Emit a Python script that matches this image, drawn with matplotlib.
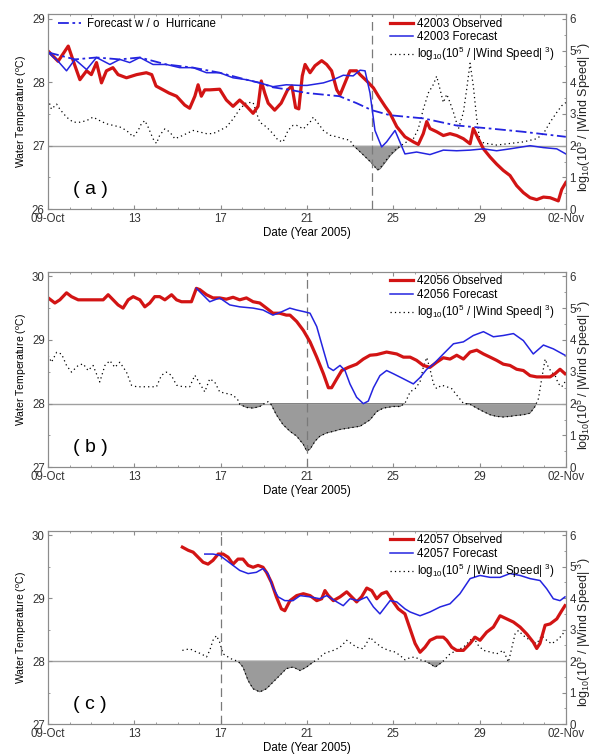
import matplotlib.pyplot as plt
import numpy as np
from matplotlib.ticker import MultipleLocator

plt.rcParams['font.family'] = ['Liberation Sans', 'DejaVu Sans']
plt.rcParams['mathtext.default'] = 'regular'
plt.rcParams['font.size'] = 8.3

# days since 09-Oct-2005
xtick_pos = [0, 4, 8, 12, 16, 20, 24]
xtick_lab = ['09-Oct', '13', '17', '21', '25', '29', '02-Nov']

# ---------------- (a) buoy 42003 ----------------
a_obs_day = [0, 0.46, 0.93, 1.24, 1.47, 1.78, 2.0, 2.24, 2.47, 2.7,
             3.0, 3.24, 3.63, 4.1, 4.55, 4.8, 5.0, 5.33, 5.6, 5.95,
             6.33, 6.56, 6.8, 6.95, 7.1, 7.26, 7.5, 7.95, 8.26, 8.57,
             8.88, 9.2, 9.5, 9.73, 9.88, 10.04, 10.2, 10.5, 10.8, 11.1,
             11.3, 11.47, 11.62, 11.78, 11.91, 12.14, 12.37, 12.68, 12.91, 13.14,
             13.38, 13.53, 13.76, 13.99, 14.3, 14.46, 14.77, 15.08, 15.31, 15.62,
             15.85, 16.16, 16.54, 16.93, 17.16, 17.39, 17.55, 17.7, 18.01, 18.32,
             18.63, 18.94, 19.25, 19.56, 19.71, 19.94, 20.18, 20.49, 20.79, 21.1,
             21.41, 21.72, 22.03, 22.34, 22.65, 22.96, 23.27, 23.5, 23.65, 23.81, 24.0]
a_obs = [28.49, 28.33, 28.57, 28.26, 28.04, 28.18, 28.12, 28.31, 27.99, 28.18,
         28.23, 28.12, 28.07, 28.12, 28.15, 28.12, 27.94, 27.88, 27.83, 27.78,
         27.64, 27.59, 27.78, 27.96, 27.78, 27.88, 27.88, 27.89, 27.72, 27.62,
         27.72, 27.62, 27.51, 27.62, 28.02, 27.83, 27.67, 27.56, 27.67, 27.88,
         27.94, 27.6, 27.58, 28.1, 28.28, 28.15, 28.26, 28.34, 28.28, 28.18,
         27.88, 27.8, 27.99, 28.18, 28.18, 28.12, 28.02, 27.91, 27.78, 27.62,
         27.51, 27.3, 27.14, 27.06, 27.02, 27.19, 27.38, 27.27, 27.22, 27.16,
         27.19, 27.16, 27.11, 27.03, 27.27, 27.11, 26.95, 26.82, 26.71, 26.61,
         26.53, 26.37, 26.26, 26.18, 26.15, 26.19, 26.18, 26.15, 26.13, 26.31, 26.42]

a_fc_day = [0, 0.46, 0.85, 1.24, 1.78, 2.24, 2.86, 3.32, 3.78, 4.25,
            4.86, 5.48, 6.1, 6.72, 7.34, 7.95, 8.57, 9.19, 9.81, 10.42,
            11.04, 11.66, 12.0, 12.76, 13.22, 13.68, 14.14, 14.46, 14.69, 14.92,
            15.15, 15.46, 15.69, 16.08, 16.54, 17.08, 17.7, 18.32, 18.94, 19.56,
            20.18, 20.79, 21.41, 22.34, 22.96, 23.58, 24.0]
a_fc = [28.47, 28.33, 28.18, 28.36, 28.2, 28.39, 28.28, 28.36, 28.31, 28.39,
        28.28, 28.28, 28.23, 28.23, 28.15, 28.15, 28.07, 28.04, 27.99, 27.93,
        27.96, 27.95, 27.95, 27.99, 28.04, 28.11, 28.1, 28.19, 28.18, 27.83,
        27.24, 26.98, 27.06, 27.24, 26.87, 26.9, 26.86, 26.93, 26.92, 26.93,
        26.95, 26.92, 26.95, 27.0, 26.97, 26.95, 26.87]

a_nohur_day = [0, 1.24, 2.24, 3.32, 4.25, 5.48, 6.72, 7.95, 9.19, 9.81,
               10.42, 11.2, 12.0, 13.5, 14.3, 15.0, 15.85, 17.4, 18.9, 20.5,
               22.0, 24.0]
a_nohur = [28.47, 28.36, 28.39, 28.36, 28.39, 28.28, 28.23, 28.15, 28.04, 27.99,
           27.92, 27.88, 27.83, 27.78, 27.67, 27.56, 27.48, 27.43, 27.32, 27.27,
           27.22, 27.14]

a_wind_day = [0, 0.15, 0.39, 0.54, 0.85, 1.16, 1.47, 1.78, 2.08, 2.39,
              2.7, 3.01, 3.32, 3.63, 3.94, 4.17, 4.32, 4.48, 4.63, 4.86,
              5.02, 5.17, 5.41, 5.64, 5.87, 6.1, 6.41, 6.72, 7.03, 7.34,
              7.64, 7.95, 8.26, 8.57, 8.88, 9.19, 9.5, 9.65, 9.81, 10.12,
              10.42, 10.66, 10.89, 11.12, 11.35, 11.52, 11.83, 12.14, 12.29, 12.53,
              12.76, 13.07, 13.38, 13.68, 13.99, 14.15, 14.3, 14.61, 15.0, 15.26,
              15.38, 15.62, 15.85, 16.16, 16.39, 16.62, 16.93, 17.16, 17.39, 17.63,
              17.86, 18.01, 18.17, 18.32, 18.48, 18.63, 18.79, 19.02, 19.25, 19.4,
              19.56, 19.71, 19.87, 20.02, 20.33, 20.79, 21.41, 22.03, 22.65, 22.96,
              23.27, 23.58, 23.81, 24.0]
a_wind = [3.46, 3.15, 3.31, 3.15, 2.9, 2.74, 2.74, 2.79, 2.9, 2.79,
          2.69, 2.64, 2.59, 2.48, 2.28, 2.48, 2.69, 2.79, 2.59, 2.22,
          2.07, 2.33, 2.53, 2.43, 2.22, 2.28, 2.38, 2.48, 2.43, 2.38,
          2.38, 2.48, 2.59, 2.84, 3.15, 3.36, 3.36, 3.05, 2.74, 2.59,
          2.38, 2.17, 2.12, 2.48, 2.64, 2.64, 2.53, 2.74, 2.9, 2.69,
          2.48, 2.33, 2.28, 2.22, 2.17, 2.0, 1.91, 1.71, 1.45, 1.24,
          1.29, 1.5, 1.71, 1.91, 2.02, 2.12, 2.22, 2.53, 3.15, 3.67,
          3.93, 4.19, 3.77, 3.36, 3.62, 3.36, 3.05, 2.53, 3.05, 3.77,
          4.6, 3.88, 2.84, 2.12, 2.07, 2.02, 2.07, 2.12, 2.22, 2.38,
          2.74, 3.05, 3.26, 3.36]

# ---------------- (b) buoy 42056 ----------------
b_obs_day = [0, 0.31, 0.54, 0.85, 1.08, 1.39, 1.78, 2.24, 2.55, 2.78,
             3.01, 3.24, 3.47, 3.71, 3.94, 4.25, 4.48, 4.71, 4.94, 5.17,
             5.41, 5.72, 5.95, 6.18, 6.64, 6.87, 7.03, 7.34, 7.64, 7.95,
             8.26, 8.57, 8.88, 9.19, 9.5, 9.81, 10.12, 10.42, 10.73, 11.04,
             11.21, 11.52, 11.83, 12.14, 12.45, 12.76, 12.99, 13.14, 13.38, 13.61,
             13.92, 14.3, 14.61, 14.92, 15.23, 15.69, 16.16, 16.47, 16.78, 17.08,
             17.39, 17.7, 18.01, 18.32, 18.63, 18.94, 19.25, 19.56, 19.87, 20.18,
             20.49, 20.79, 21.1, 21.41, 21.72, 22.03, 22.34, 22.65, 22.96, 23.27,
             23.5, 23.73, 23.96]
b_obs = [29.66, 29.58, 29.63, 29.74, 29.68, 29.63, 29.63, 29.63, 29.63, 29.71,
         29.63, 29.55, 29.5, 29.63, 29.68, 29.63, 29.52, 29.58, 29.68, 29.68,
         29.63, 29.71, 29.63, 29.6, 29.6, 29.81, 29.79, 29.71, 29.66, 29.66,
         29.64, 29.67, 29.63, 29.66, 29.6, 29.58, 29.5, 29.42, 29.42, 29.39,
         29.39, 29.29, 29.15, 28.97, 28.73, 28.47, 28.25, 28.25, 28.39, 28.52,
         28.57, 28.62, 28.7, 28.76, 28.77, 28.81, 28.78, 28.73, 28.73, 28.68,
         28.6, 28.57, 28.65, 28.72, 28.7, 28.76, 28.7, 28.81, 28.84, 28.78,
         28.73, 28.68, 28.62, 28.6, 28.54, 28.52, 28.44, 28.42, 28.42, 28.42,
         28.47, 28.54, 28.47]

b_fc_day = [6.87, 7.49, 7.95, 8.42, 8.88, 9.5, 9.96, 10.42, 10.81, 11.2,
            11.52, 11.91, 12.14, 12.45, 12.76, 12.99, 13.22, 13.53, 13.76, 13.99,
            14.3, 14.61, 14.84, 15.08, 15.38, 15.69, 16.0, 16.47, 16.93, 17.24,
            17.55, 17.86, 18.32, 18.79, 19.25, 19.71, 20.18, 20.64, 21.1, 21.57,
            22.03, 22.49, 22.96, 23.42, 23.96]
b_fc = [29.81, 29.6, 29.66, 29.55, 29.52, 29.5, 29.47, 29.39, 29.44, 29.5,
        29.47, 29.44, 29.42, 29.21, 28.84, 28.57, 28.52, 28.6, 28.52, 28.31,
        28.1, 28.0, 28.04, 28.25, 28.44, 28.52, 28.47, 28.39, 28.31, 28.41,
        28.54, 28.62, 28.78, 28.94, 28.97, 29.07, 29.13, 29.05, 29.07, 29.1,
        28.99, 28.78, 28.92, 28.86, 28.76]

b_wind_day = [0, 0.15, 0.39, 0.62, 0.85, 1.08, 1.39, 1.62, 1.85, 2.08,
              2.39, 2.63, 2.86, 3.09, 3.32, 3.63, 3.86, 4.1, 4.56, 5.02,
              5.25, 5.48, 5.71, 5.95, 6.25, 6.56, 6.8, 7.03, 7.26, 7.49,
              7.72, 7.95, 8.26, 8.57, 8.8, 8.88, 9.19, 9.5, 9.81, 10.04,
              10.19, 10.35, 10.58, 10.89, 11.21, 11.52, 11.83, 11.98, 12.14, 12.37,
              12.6, 12.91, 13.22, 13.53, 13.99, 14.46, 14.92, 15.23, 15.54, 16.0,
              16.31, 16.54, 16.78, 17.01, 17.24, 17.39, 17.55, 17.7, 17.86, 18.01,
              18.24, 18.48, 18.71, 18.94, 19.25, 19.56, 19.87, 20.18, 20.49, 20.79,
              21.1, 21.41, 21.72, 22.03, 22.34, 22.57, 22.73, 22.88, 23.04, 23.19,
              23.34, 23.5, 23.65, 23.81, 23.96]
b_wind = [3.51, 3.3, 3.61, 3.56, 3.2, 2.99, 3.2, 3.25, 3.04, 3.2,
          2.68, 3.2, 3.35, 3.14, 3.3, 2.99, 2.58, 2.53, 2.53, 2.53,
          2.89, 2.99, 2.89, 2.58, 2.53, 2.53, 2.89, 2.63, 2.37, 2.78,
          2.68, 2.37, 2.32, 2.27, 2.11, 1.98, 1.88, 1.86, 1.91, 2.01,
          2.06, 1.96, 1.65, 1.34, 1.13, 0.98, 0.72, 0.52, 0.57, 0.82,
          0.98, 1.08, 1.13, 1.19, 1.24, 1.29, 1.49, 1.75, 1.86, 1.91,
          1.91, 2.01, 2.37, 2.47, 2.68, 3.14, 3.45, 3.09, 2.63, 2.47,
          2.58, 2.53, 2.47, 2.27, 2.01, 1.98, 1.86, 1.75, 1.65, 1.6,
          1.58, 1.6, 1.63, 1.65, 1.7, 1.91, 2.16, 2.78, 3.4, 3.14,
          2.99, 2.89, 2.63, 2.53, 2.68]

# ---------------- (c) buoy 42057 ----------------
c_obs_day = [6.22, 6.49, 6.72, 6.95, 7.18, 7.41, 7.64, 7.88, 8.11, 8.34,
             8.57, 8.8, 9.03, 9.27, 9.5, 9.73, 9.96, 10.12, 10.35, 10.58,
             10.81, 10.97, 11.21, 11.52, 11.83, 12.14, 12.45, 12.68, 12.83, 12.99,
             13.22, 13.53, 13.84, 14.07, 14.3, 14.53, 14.77, 15.0, 15.23, 15.46,
             15.69, 16.0, 16.23, 16.54, 16.78, 17.01, 17.24, 17.47, 17.7, 18.01,
             18.32, 18.48, 18.71, 18.94, 19.25, 19.56, 19.79, 20.02, 20.33, 20.64,
             20.95, 21.26, 21.57, 21.88, 22.19, 22.49, 22.65, 22.8, 23.04, 23.27,
             23.58, 23.81, 23.96]
c_obs = [29.81, 29.76, 29.73, 29.65, 29.57, 29.54, 29.6, 29.7, 29.7, 29.65,
         29.54, 29.62, 29.62, 29.52, 29.49, 29.52, 29.49, 29.41, 29.25, 29.02,
         28.83, 28.8, 28.96, 29.04, 29.07, 29.04, 28.96, 28.99, 29.12, 29.04,
         28.96, 29.02, 29.1, 29.02, 28.94, 29.02, 29.16, 29.12, 28.99, 29.07,
         29.1, 28.94, 28.83, 28.75, 28.51, 28.28, 28.14, 28.22, 28.33, 28.38,
         28.38, 28.33, 28.22, 28.17, 28.17, 28.28, 28.38, 28.33, 28.46, 28.54,
         28.72, 28.67, 28.62, 28.54, 28.43, 28.3, 28.2, 28.28, 28.57, 28.59,
         28.67, 28.8, 28.88]

c_fc_day = [7.26, 7.64, 7.95, 8.26, 8.57, 8.88, 9.27, 9.65, 9.96, 10.19,
            10.42, 10.66, 10.97, 11.35, 11.68, 12.14, 12.6, 12.91, 13.38, 13.68,
            13.99, 14.38, 14.77, 15.08, 15.38, 15.85, 16.16, 16.54, 16.78, 17.24,
            17.7, 18.17, 18.63, 19.09, 19.56, 20.02, 20.49, 20.95, 21.41, 21.88,
            22.34, 22.8, 23.11, 23.42, 23.73, 23.96]
c_fc = [29.7, 29.7, 29.68, 29.6, 29.52, 29.44, 29.39, 29.41, 29.47, 29.39,
        29.17, 29.02, 28.96, 28.96, 29.04, 29.02, 28.99, 29.04, 28.94, 28.88,
        28.99, 28.96, 29.02, 28.86, 28.75, 28.96, 28.94, 28.83, 28.78, 28.72,
        28.78, 28.86, 28.91, 29.07, 29.31, 29.36, 29.33, 29.33, 29.39, 29.36,
        29.31, 29.28, 29.15, 28.99, 28.96, 29.02]

c_wind_day = [6.22, 6.56, 6.87, 7.1, 7.34, 7.49, 7.64, 7.8, 7.95, 8.11,
              8.34, 8.57, 8.8, 9.03, 9.27, 9.5, 9.81, 10.12, 10.42, 10.73,
              11.04, 11.35, 11.68, 11.98, 12.29, 12.53, 12.76, 12.99, 13.22, 13.53,
              13.84, 14.07, 14.3, 14.61, 14.92, 15.15, 15.46, 15.77, 16.08, 16.31,
              16.54, 16.78, 17.01, 17.24, 17.47, 17.7, 17.94, 18.17, 18.35, 18.63,
              18.94, 19.25, 19.48, 19.71, 19.94, 20.18, 20.49, 20.79, 21.1, 21.34,
              21.5, 21.65, 21.8, 22.03, 22.34, 22.65, 22.88, 23.11, 23.34, 23.58,
              23.81, 23.96]
c_wind = [2.34, 2.39, 2.29, 2.23, 2.13, 2.34, 2.66, 2.81, 2.6, 2.23,
          2.13, 2.04, 2.0, 1.81, 1.38, 1.12, 1.02, 1.12, 1.33, 1.54,
          1.76, 1.81, 1.7, 1.81, 1.97, 2.07, 2.23, 2.29, 2.34, 2.44,
          2.66, 2.55, 2.44, 2.39, 2.76, 2.6, 2.44, 2.34, 2.29, 2.18,
          2.04, 2.11, 2.13, 2.04, 2.0, 1.92, 1.81, 1.92, 2.02, 2.23,
          2.34, 2.44, 2.6, 2.76, 2.5, 2.34, 2.29, 2.23, 2.34, 1.97,
          2.44, 2.87, 2.97, 2.81, 2.66, 2.55, 2.81, 2.66, 2.55, 2.66,
          2.81, 2.97]

wind_lab = r'log$_{10}$(10$^5$ / |Wind Speed| $^3$)'
red = '#d21414'
blue = '#2424e0'
grey = '#8c8c8c'

fig = plt.figure(figsize=(5.95, 7.55), dpi=100)


def panel(rect, obs_d, obs_t, fc_d, fc_t, w_d, w_v, tmin, buoy, letter, vday,
          nh_d=None, nh_t=None):
    ax = fig.add_axes(rect)
    ax2 = ax.twinx()
    ax.set_zorder(ax2.get_zorder() + 1)
    ax.patch.set_visible(False)

    # wind index on right axis
    ax2.axhline(2, color='#a0a0a0', lw=1.0)
    w_d = np.array(w_d)
    w_v = np.array(w_v)
    ax2.fill_between(w_d, w_v, 2, where=w_v < 2, interpolate=True,
                     facecolor='#9b9b9b', edgecolor='#555555', lw=0.5)
    lw_, = ax2.plot(w_d, w_v, color='k', lw=0.9, ls=(0, (1, 2.5)))
    ax2.set_ylim(0, 6.14)
    ax2.yaxis.set_major_locator(MultipleLocator(1))
    ax2.yaxis.set_minor_locator(MultipleLocator(0.5))

    ax.axvline(vday, color='#7a7a7a', lw=0.9, ls=(0, (7, 4)))
    lo, = ax.plot(obs_d, obs_t, color=red, lw=2.3)
    lf, = ax.plot(fc_d, fc_t, color=blue, lw=1.1)
    if nh_d is not None:
        ln, = ax.plot(nh_d, nh_t, color=blue, lw=1.3, ls=(0, (6, 2, 1.5, 2)))

    ax.set_xlim(0, 24)
    ax.set_ylim(tmin, tmin + 3.07)
    ax.set_xticks(xtick_pos)
    ax.set_xticklabels(xtick_lab)
    ax.xaxis.set_minor_locator(MultipleLocator(1))
    ax.yaxis.set_major_locator(MultipleLocator(1))
    ax.yaxis.set_minor_locator(MultipleLocator(0.5))

    for a in (ax, ax2):
        for s in a.spines.values():
            s.set_color(grey)
        a.tick_params(which='both', direction='in', color=grey,
                      labelcolor='#333333', labelsize=8.3, pad=2.5)
        a.tick_params(which='major', length=3)
        a.tick_params(which='minor', length=1.5)
    ax.tick_params(which='both', top=True)

    ax.set_ylabel('Water Temperature ($^o$C)', labelpad=2, fontsize=7.5)
    ax.set_xlabel('Date (Year 2005)', labelpad=1.5, fontsize=8.3)
    ax2.text(1.035, 0.09, wind_lab, rotation=90, transform=ax2.transAxes,
             va='bottom', ha='center', fontsize=9, color='#222222',
             clip_on=False)

    ax.text(0.048, 0.1, '( ' + letter + ' )', transform=ax.transAxes,
            fontsize=14, va='center', ha='left')

    leg = ax.legend([lo, lf, lw_], [buoy + ' Observed', buoy + ' Forecast', wind_lab],
                    loc='upper left', bbox_to_anchor=(0.655, 0.995),
                    frameon=False, handlelength=2.0, handletextpad=0.4,
                    labelspacing=0.15, borderaxespad=0, borderpad=0.2,
                    fontsize=8.3)
    if nh_d is not None:
        ax.add_artist(leg)
        ax.legend([ln], ['Forecast w / o  Hurricane'], loc='upper left',
                  bbox_to_anchor=(0.015, 0.995), frameon=False,
                  handlelength=2.0, handletextpad=0.5, borderaxespad=0,
                  borderpad=0.2, fontsize=8.3)
    return ax


panel([0.081, 0.723, 0.870, 0.258], a_obs_day, a_obs, a_fc_day, a_fc,
      a_wind_day, a_wind, 26, '42003', 'a', 15.0, a_nohur_day, a_nohur)
panel([0.081, 0.381, 0.870, 0.259], b_obs_day, b_obs, b_fc_day, b_fc,
      b_wind_day, b_wind, 27, '42056', 'b', 12.0)
panel([0.081, 0.041, 0.870, 0.256], c_obs_day, c_obs, c_fc_day, c_fc,
      c_wind_day, c_wind, 27, '42057', 'c', 8.0)

fig.savefig('out.png', dpi=100)
